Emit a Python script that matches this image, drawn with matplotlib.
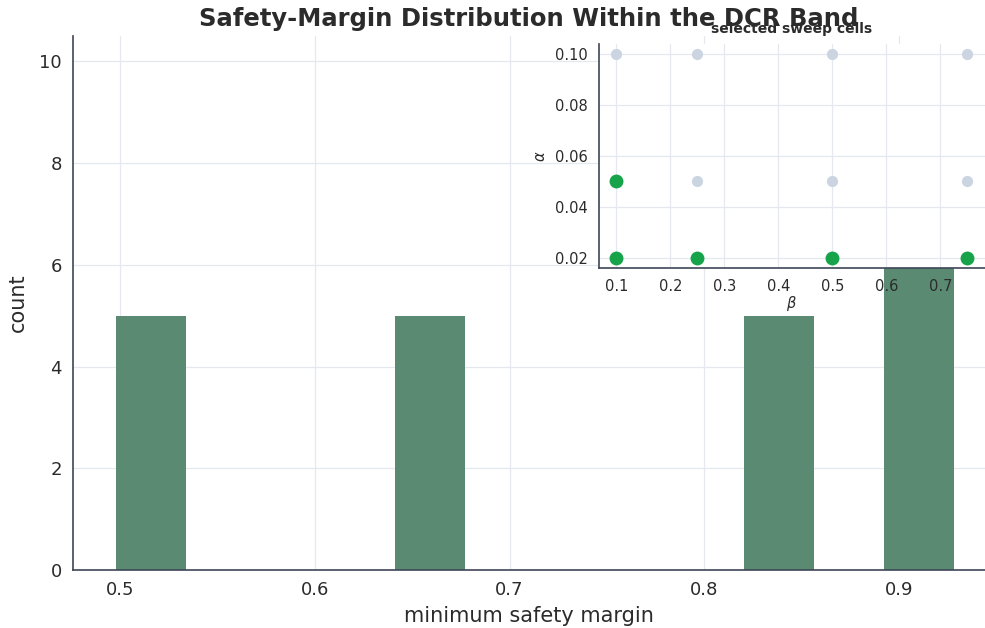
import matplotlib
matplotlib.use("Agg")
import matplotlib.pyplot as plt

# minimum safety margin per run (5 runs per selected cell)
margins = [0.498] * 5 + [0.660] * 5 + [0.840] * 5 + [0.910] * 5 + [0.928] * 5
n_bins = 12

# sweep grid
betas = [0.1, 0.25, 0.5, 0.75]
alphas = [0.02, 0.05, 0.1]
sel_beta = [0.1, 0.1, 0.25, 0.5, 0.75]
sel_alpha = [0.05, 0.02, 0.02, 0.02, 0.02]

bar_color = "#5a8a72"
sel_color = "#16a34a"
grid_pt_color = "#cbd5e1"
spine_color = "#3f4656"
grid_color = "#e6e8f0"
text_color = "#2b2b2b"

plt.rcParams["font.family"] = "DejaVu Sans"

fig = plt.figure(figsize=(9.85, 6.28), dpi=100)
ax = fig.add_axes([0.0741, 0.0924, 0.9259, 0.8503])

ax.hist(margins, bins=n_bins, color=bar_color, zorder=2)
ax.set_xlim(0.476, 0.944)
ax.set_ylim(0, 10.5)
ax.set_xticks([0.5, 0.6, 0.7, 0.8, 0.9])
ax.set_yticks([0, 2, 4, 6, 8, 10])
ax.grid(True, color=grid_color, linewidth=0.9, zorder=0)
ax.set_axisbelow(True)
for s in ["top", "right"]:
    ax.spines[s].set_visible(False)
for s in ["left", "bottom"]:
    ax.spines[s].set_color(spine_color)
    ax.spines[s].set_linewidth(1.2)
ax.tick_params(length=0, labelsize=13, labelcolor=text_color, pad=8)
ax.set_xlabel("minimum safety margin", fontsize=15, color=text_color, labelpad=5)
ax.set_ylabel("count", fontsize=15, color=text_color, labelpad=8)
ax.set_title("Safety-Margin Distribution Within the DCR Band",
             fontsize=17.5, fontweight="bold", color=text_color, pad=7)

# inset: which sweep cells were selected
ins = fig.add_axes([0.608, 0.5732, 0.392, 0.3567])
ins.set_facecolor("white")
bb = [b for b in betas for a in alphas]
aa = [a for b in betas for a in alphas]
ins.scatter(bb, aa, s=65, color=grid_pt_color, zorder=2, linewidths=0)
ins.scatter(sel_beta, sel_alpha, s=100, color=sel_color, zorder=3, linewidths=0)
ins.set_xlim(0.0675, 0.7825)
ins.set_ylim(0.016, 0.104)
ins.set_xticks([0.1, 0.2, 0.3, 0.4, 0.5, 0.6, 0.7])
ins.set_yticks([0.02, 0.04, 0.06, 0.08, 0.10])
ins.set_yticklabels(["0.02", "0.04", "0.06", "0.08", "0.10"])
ins.grid(True, color=grid_color, linewidth=0.9, zorder=0)
ins.set_axisbelow(True)
for s in ["top", "right"]:
    ins.spines[s].set_visible(False)
for s in ["left", "bottom"]:
    ins.spines[s].set_color(spine_color)
    ins.spines[s].set_linewidth(1.2)
ins.tick_params(length=0, labelsize=10.5, labelcolor=text_color, pad=8)
ins.set_xlabel(r"$\beta$", fontsize=10.5, color=text_color, labelpad=0)
ins.set_ylabel(r"$\alpha$", fontsize=10.5, color=text_color, labelpad=5)
ins.set_title("selected sweep cells", fontsize=10, fontweight="bold",
              color=text_color, pad=8)

fig.savefig("out.png", dpi=100)
